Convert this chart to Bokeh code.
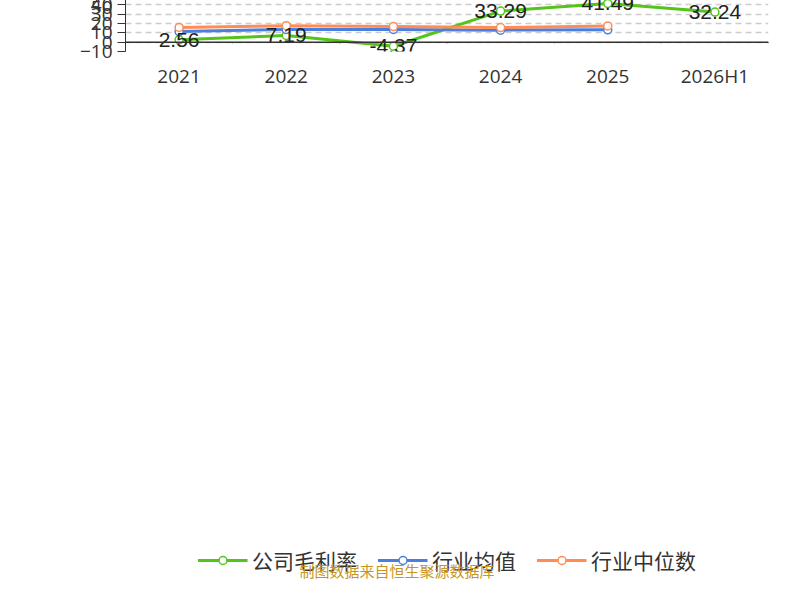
import math
from bokeh.plotting import figure
from bokeh.models import ColumnDataSource, Legend, LegendItem, Label, Span, FixedTicker, Range1d, Div
from bokeh.layouts import column
from bokeh.embed import file_html
from bokeh.resources import INLINE

years = ["2021", "2022", "2023", "2024", "2025", "2026H1"]
company = [2.56, 7.19, -4.37, 33.29, 41.49, 32.24]
industry_avg = [11.3, 13.6, 13.7, 12.9, 13.2]
industry_med = [15.8, 17.7, 16.7, 15.6, 17.4]
yticks = [-10, 0, 10, 20, 30, 40, 50]

xs = list(range(len(years)))
p = figure(width=784, height=555, output_backend="svg", toolbar_location=None,
           x_range=Range1d(-0.5, 5.5), y_range=Range1d(-10, 50),
           min_border_left=125, min_border_right=16, min_border_top=20)
p.outline_line_color = None
p.title.text = "历年毛利率变化情况(%)"
p.title.align = "center"
p.title.text_font_size = "27px"
p.title.text_color = "#333333"
p.title.text_font = "Noto Sans CJK SC"

p.xaxis.ticker = FixedTicker(ticks=xs)
p.xaxis.major_label_overrides = {i: y for i, y in enumerate(years)}
p.xaxis.axis_line_color = None
p.xaxis.major_tick_line_color = None
p.xaxis.minor_tick_line_color = None
p.xaxis.major_label_text_font_size = "19px"
p.xaxis.major_label_text_color = "#333333"
p.xaxis.major_label_text_font = "Open Sans"
p.yaxis.ticker = FixedTicker(ticks=yticks)
p.yaxis.minor_tick_line_color = None
p.yaxis.major_tick_out = 8
p.yaxis.major_tick_in = 0
p.yaxis.axis_line_color = "#333333"
p.yaxis.major_tick_line_color = "#333333"
p.yaxis.major_label_text_font_size = "19px"
p.yaxis.major_label_text_color = "#333333"
p.yaxis.major_label_text_font = "Open Sans"
p.xgrid.grid_line_color = None
p.ygrid.grid_line_color = "#cccccc"
p.ygrid.grid_line_dash = "6 4"
p.ygrid.grid_line_width = 1.5

p.add_layout(Span(location=0, dimension="width", line_color="#333333", line_width=1.5))
bounds = [i - 0.5 for i in range(len(years) + 1)]
p.segment(x0=bounds, y0=[0] * len(bounds), x1=bounds, y1=[-1.2] * len(bounds), line_color="#333333")

p.add_layout(Label(x=-55, y=46, x_units="screen", y_units="data", text="(%)", angle=math.pi / 2,
                   text_color="red", text_font_size="15px"))

colors = ["#52c41a", "#4a7fe0", "#ff8c55"]
r1 = p.line(xs, company, line_color=colors[0], line_width=3)
c1 = p.scatter(xs, company, size=8, fill_color="white", line_color=colors[0], line_width=1.5)
r2 = p.line(xs[:5], industry_avg, line_color=colors[1], line_width=3)
c2 = p.scatter(xs[:5], industry_avg, size=8, fill_color="white", line_color=colors[1], line_width=1.5)
r3 = p.line(xs[:5], industry_med, line_color=colors[2], line_width=3)
c3 = p.scatter(xs[:5], industry_med, size=8, fill_color="white", line_color=colors[2], line_width=1.5)

src = ColumnDataSource(dict(x=xs, y=company, t=[f"{v:.2f}" for v in company]))
p.text(x="x", y="y", text="t", source=src, text_align="center", text_baseline="middle",
       text_font_size="21px", text_color="#222222")

leg = Legend(items=[LegendItem(label="公司毛利率", renderers=[r1, c1]),
                    LegendItem(label="行业均值", renderers=[r2, c2]),
                    LegendItem(label="行业中位数", renderers=[r3, c3])],
             orientation="horizontal", label_text_font_size="21px",
             label_text_font="Noto Sans CJK SC", label_text_color="#333333",
             glyph_width=50, spacing=20, border_line_color=None)
p.add_layout(leg, "below")
leg.location = "center"

footer = Div(text='<div style="width:784px;text-align:center;color:#c8961e;font-size:15px;'
                  'font-family:\'Noto Sans CJK SC\'">制图数据来自恒生聚源数据库</div>',
             width=784, height=25)

open("out.html", "w").write(file_html(column(p, footer), INLINE))
